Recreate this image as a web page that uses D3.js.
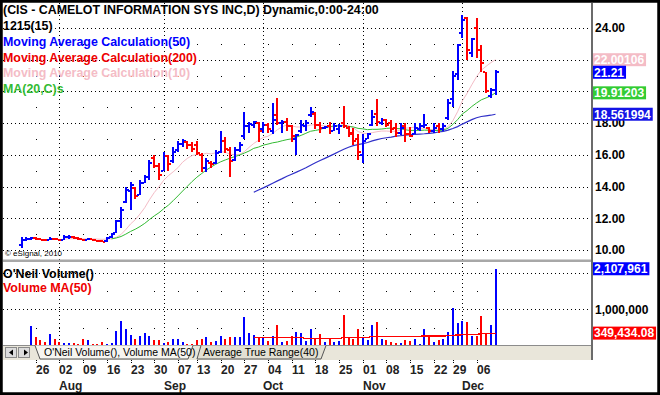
<!DOCTYPE html>
<html>
<head>
<meta charset="utf-8">
<script src="https://cdn.jsdelivr.net/npm/d3@7"></script>
<style>
  body { margin: 0; background: #fff; }
  svg text { font-family: "Liberation Sans", Arial, sans-serif; }
</style>
</head>
<body>
<svg id="chart"></svg>
<script>
// Handelsdage (Jul 21 - Dec 10, 2010)
const firstDay = "2010-07-21", lastDay = "2010-12-10";
const holidays = ["2010-09-06", "2010-11-25"];

// OHLC
const opens = [
  10.30,10.60,10.70,10.75,10.70,10.66,10.62,10.72,10.68,10.62,
  10.80,10.85,10.75,10.68,10.62,10.70,10.62,10.56,10.55,10.80,
  11.10,11.80,13.00,13.70,13.90,13.50,14.25,14.60,15.80,15.30,
  15.00,15.90,15.60,16.30,16.70,16.80,16.60,16.60,16.00,15.20,
  15.50,15.50,16.20,16.90,16.30,15.70,16.30,17.20,17.80,17.90,
  18.00,17.60,17.90,17.50,18.50,18.00,18.10,17.80,17.00,17.50,
  17.80,18.50,18.60,17.90,17.70,17.80,17.50,17.60,18.00,17.70,
  17.40,17.00,16.00,17.00,17.90,18.60,18.00,18.20,18.00,17.70,
  17.40,17.80,17.30,17.30,17.60,17.80,17.70,17.50,17.80,17.60,
  18.30,19.50,21.10,23.70,24.60,22.40,24.00,22.60,21.20,19.70,
  20.10];
const highs = [
  10.85,10.80,10.82,10.80,10.76,10.72,10.80,10.78,10.72,10.92,
  10.95,10.88,10.80,10.72,10.78,10.72,10.66,10.62,10.85,11.10,
  11.90,12.70,14.00,14.30,13.95,14.40,14.70,15.70,16.00,15.50,
  16.20,16.00,16.50,16.90,17.00,16.85,16.80,16.90,16.10,15.80,
  15.60,16.30,17.50,17.10,16.50,16.50,16.80,18.70,18.10,18.15,
  18.10,18.10,18.00,19.30,19.60,18.20,18.30,17.90,17.30,18.20,
  18.20,19.00,18.70,18.10,17.85,18.10,18.00,17.95,19.10,17.80,
  17.70,17.30,17.30,17.40,18.80,19.50,18.30,18.25,18.20,18.00,
  18.00,18.00,17.75,18.00,18.00,18.60,17.75,18.00,18.00,18.00,
  19.50,21.30,23.00,24.80,24.70,23.40,24.60,22.90,21.20,20.20,
  21.35];
const lows = [
  10.10,10.55,10.62,10.62,10.60,10.55,10.60,10.62,10.55,10.60,
  10.72,10.70,10.60,10.56,10.60,10.55,10.50,10.48,10.52,10.78,
  11.05,11.40,12.95,12.50,13.20,13.45,14.20,14.40,15.20,14.40,
  15.00,15.00,15.50,16.20,16.50,16.40,16.20,16.00,14.90,14.90,
  15.20,15.40,16.10,16.10,14.60,15.60,16.20,17.00,17.40,17.70,
  16.80,17.40,17.40,17.30,17.90,17.40,17.50,16.80,16.00,17.40,
  17.50,18.40,17.60,17.40,17.60,17.30,17.50,17.30,17.70,17.10,
  16.60,15.70,15.50,17.00,17.80,17.80,17.90,17.75,17.40,17.10,
  17.25,16.80,17.10,17.30,17.50,17.70,17.40,17.40,17.40,17.50,
  18.20,19.00,20.70,23.40,22.00,22.20,22.10,21.20,19.90,19.60,
  19.80];
const closes = [
  10.65,10.72,10.75,10.70,10.66,10.62,10.72,10.68,10.60,10.80,
  10.85,10.75,10.68,10.62,10.70,10.62,10.56,10.52,10.78,11.00,
  11.80,12.50,13.80,14.10,13.40,14.20,14.60,15.50,15.30,14.70,
  15.90,15.40,16.20,16.70,16.90,16.60,16.40,16.10,15.20,15.60,
  15.45,16.10,16.90,16.40,15.60,16.30,16.60,17.80,17.95,18.05,
  17.50,17.90,17.60,18.20,18.00,18.10,17.80,17.20,17.25,17.90,
  18.00,18.70,17.90,17.70,17.75,17.50,17.80,17.85,17.80,17.30,
  16.90,16.20,16.90,17.30,18.40,18.10,18.20,17.90,17.60,17.40,
  17.70,17.30,17.20,17.70,17.80,17.90,17.50,17.70,17.60,17.80,
  19.30,21.00,22.90,24.50,22.60,23.30,22.60,21.80,20.00,20.10,
  21.21];

// Volumen (aktier)
const volumes = [
  null,null,540000,250000,160000,120000,320000,200000,100000,90000,
  90000,90000,40000,180000,160000,40000,40000,120000,40000,90000,
  400000,690000,450000,290000,180000,270000,340000,270000,160000,160000,
  90000,120000,180000,200000,120000,40000,40000,160000,180000,250000,
  120000,140000,270000,180000,230000,250000,230000,780000,340000,310000,
  250000,250000,140000,270000,570000,120000,140000,270000,370000,340000,
  140000,460000,200000,320000,110000,200000,120000,140000,850000,230000,
  190000,470000,250000,160000,570000,650000,190000,160000,120000,80000,
  80000,160000,140000,190000,40000,460000,310000,110000,160000,190000,
  370000,1030000,630000,680000,660000,260000,260000,830000,360000,570000,
  2107961];

// Glidende gennemsnit (startdato + værdier)
const ma10From = "2010-08-03";
const ma10 = [
  10.69,10.71,10.71,10.71,10.70,10.70,10.70,10.69,10.67,10.69,
  10.71,10.80,10.98,11.29,11.64,11.91,12.27,12.67,13.17,13.62,
  13.99,14.40,14.69,14.93,15.19,15.54,15.78,15.96,16.02,16.01,
  16.10,16.06,16.13,16.20,16.17,16.04,16.01,16.03,16.20,16.47,
  16.72,16.92,17.10,17.17,17.35,17.59,17.77,17.89,17.83,17.76,
  17.75,17.80,17.88,17.91,17.86,17.83,17.77,17.77,17.84,17.89,
  17.83,17.72,17.47,17.37,17.33,17.40,17.46,17.50,17.50,17.48,
  17.49,17.57,17.68,17.71,17.75,17.69,17.67,17.60,17.58,17.58,
  17.62,17.78,18.15,18.72,19.40,19.88,20.42,20.93,21.34,21.58,
  21.81,22.00106];
const ma20From = "2010-08-17";
const ma20 = [
  10.70,10.76,10.85,11.00,11.17,11.31,11.48,11.68,11.92,12.15,
  12.35,12.60,12.83,13.11,13.41,13.72,14.02,14.32,14.59,14.82,
  15.05,15.23,15.41,15.56,15.68,15.79,15.89,15.99,16.11,16.24,
  16.41,16.49,16.61,16.68,16.76,16.81,16.89,16.96,17.01,17.12,
  17.23,17.36,17.49,17.54,17.60,17.71,17.77,17.83,17.83,17.83,
  17.79,17.76,17.67,17.64,17.59,17.61,17.61,17.63,17.67,17.69,
  17.66,17.65,17.58,17.54,17.54,17.54,17.56,17.55,17.54,17.53,
  17.56,17.68,17.92,18.22,18.58,18.79,19.05,19.27,19.47,19.59,
  19.72,19.91203];
const ma50From = "2010-09-29";
const ma50 = [
  13.64,13.78,13.92,14.06,14.21,14.36,14.50,14.65,14.78,14.91,
  15.05,15.19,15.35,15.50,15.64,15.78,15.92,16.06,16.21,16.35,
  16.48,16.58,16.65,16.71,16.78,16.88,16.96,17.03,17.08,17.12,
  17.18,17.21,17.25,17.27,17.29,17.31,17.33,17.36,17.39,17.44,
  17.48,17.56,17.66,17.78,17.94,18.08,18.22,18.34,18.42,18.46,
  18.50,18.561994];
const volMaFrom = "2010-09-29";
const volMa = [
  240000,240000,240000,230000,230000,230000,220000,220000,220000,220000,
  220000,210000,210000,210000,210000,210000,210000,210000,210000,230000,
  230000,230000,240000,240000,240000,250000,260000,260000,260000,260000,
  260000,260000,260000,260000,260000,260000,270000,270000,270000,270000,
  270000,280000,290000,300000,310000,320000,320000,320000,330000,330000,
  340000,349434.08];

// Akse-etiketter
const priceTicks = [10, 12, 14, 16, 18, 20, 22, 24];
const priceMinor = [11, 13, 15, 17, 19, 21, 23];
const volTicks = [1000000, 2000000];
const volMinor = [500000, 1500000];
const weekStarts = ["2010-07-26","2010-08-02","2010-08-09","2010-08-16","2010-08-23","2010-08-30",
  "2010-09-07","2010-09-13","2010-09-20","2010-09-27","2010-10-04","2010-10-11","2010-10-18",
  "2010-10-25","2010-11-01","2010-11-08","2010-11-15","2010-11-22","2010-11-29","2010-12-06"];
const weekLabels = ["26","02","09","16","23","30","07","13","20","27","04","11","18","25","01","08","15","22","29","06"];
const monthStarts = ["2010-08-02","2010-09-01","2010-10-01","2010-11-01","2010-12-01"];
const monthLabels = ["Aug","Sep","Oct","Nov","Dec"];

const BLUE = "#0000ff", RED = "#ff0000", PINK = "#f4bcc6", GREEN = "#33bb33", MA50C = "#3030c8";
const W = 660, H = 395, right = 591;

const fmt = d3.utcFormat("%Y-%m-%d");
const days = d3.utcDays(new Date(firstDay), d3.utcDay.offset(new Date(lastDay), 1))
    .filter(d => d.getUTCDay() % 6 !== 0 && !holidays.includes(fmt(d)))
    .map(fmt);

const ohlc = days.map((d, i) => ({
    date: d, o: opens[i], h: highs[i], l: lows[i], c: closes[i], v: volumes[i],
    up: i === 0 || closes[i] >= closes[i - 1]
}));
const series = (from, vals) => {
    const s = days.indexOf(from);
    return vals.map((v, k) => ({ date: days[s + k], v }));
};

const x = d3.scalePoint().domain(days).range([21.5, 495.5]);
const y = d3.scaleLinear().domain([10, 24]).range([250, 28]);
const yv = d3.scaleLinear().domain([0, 2000000]).range([345.9, 272.7]);
const px = d => Math.round(x(d));

const svg = d3.select("#chart").attr("width", W).attr("height", H);
svg.append("rect").attr("width", W).attr("height", H).attr("fill", "#fff");

const defs = svg.append("defs");
defs.append("clipPath").attr("id", "cp").append("rect").attr("x", 3).attr("y", 3).attr("width", right - 3).attr("height", 256);
defs.append("clipPath").attr("id", "cv").append("rect").attr("x", 3).attr("y", 262).attr("width", right - 3).attr("height", 83);

// Gitter
const grid = svg.append("g").attr("stroke", "#000").attr("stroke-width", 1).attr("stroke-dasharray", "1,3").attr("shape-rendering", "crispEdges");
grid.selectAll(".hp").data(priceTicks).join("line")
    .attr("x1", 3).attr("x2", right).attr("y1", d => Math.round(y(d)) + 0.5).attr("y2", d => Math.round(y(d)) + 0.5);
grid.selectAll(".hv").data(volTicks).join("line")
    .attr("x1", 3).attr("x2", right).attr("y1", d => Math.round(yv(d)) + 0.5).attr("y2", d => Math.round(yv(d)) + 0.5);
grid.selectAll(".vm").data(monthStarts).join("line")
    .attr("x1", d => px(d) + 0.5).attr("x2", d => px(d) + 0.5).attr("y1", 3).attr("y2", 345);

const dots = svg.append("g").attr("fill", "#000");
priceMinor.forEach(p => weekStarts.forEach(w =>
    dots.append("rect").attr("x", px(w)).attr("y", Math.round(y(p))).attr("width", 1).attr("height", 1)));
volMinor.forEach(p => weekStarts.forEach(w =>
    dots.append("rect").attr("x", px(w)).attr("y", Math.round(yv(p))).attr("width", 1).attr("height", 1)));

// Glidende gennemsnit
const line = d3.line().x(d => x(d.date)).y(d => y(d.v));
const gp = svg.append("g").attr("clip-path", "url(#cp)").attr("fill", "none");
gp.append("path").datum(series(ma10From, ma10)).attr("d", line).attr("stroke", PINK).attr("stroke-width", 1);
gp.append("path").datum(series(ma20From, ma20)).attr("d", line).attr("stroke", GREEN).attr("stroke-width", 1);
gp.append("path").datum(series(ma50From, ma50)).attr("d", line).attr("stroke", MA50C).attr("stroke-width", 1.2);

// OHLC-søjler
const gb = svg.append("g").attr("clip-path", "url(#cp)").attr("shape-rendering", "crispEdges");
const bar = gb.selectAll("g").data(ohlc).join("g").attr("fill", d => d.up ? BLUE : RED);
bar.append("rect").attr("x", d => px(d.date) - 1).attr("width", 2)
    .attr("y", d => Math.round(y(d.h))).attr("height", d => Math.max(2, Math.round(y(d.l)) - Math.round(y(d.h))));
bar.append("rect").attr("x", d => px(d.date) - 3).attr("width", 2)
    .attr("y", d => Math.round(y(d.o)) - 1).attr("height", 2);
bar.append("rect").attr("x", d => px(d.date) + 1).attr("width", 2)
    .attr("y", d => Math.round(y(d.c)) - 1).attr("height", 2);

// Volumen
const gv = svg.append("g").attr("clip-path", "url(#cv)").attr("shape-rendering", "crispEdges");
gv.selectAll("rect").data(ohlc.filter(d => d.v != null)).join("rect")
    .attr("x", d => px(d.date) - 1).attr("width", 2)
    .attr("y", d => yv(d.v)).attr("height", d => yv(0) - yv(d.v))
    .attr("fill", d => d.up ? BLUE : RED);
gv.append("path").datum(series(volMaFrom, volMa))
    .attr("d", d3.line().x(d => x(d.date)).y(d => yv(d.v)).curve(d3.curveStep))
    .attr("fill", "none").attr("stroke", RED).attr("stroke-width", 1.2);

// Paneladskillelse og højre akse
svg.append("rect").attr("x", 3).attr("y", 259.5).attr("width", right - 3).attr("height", 2.5).attr("fill", "#a8a8a8");
svg.append("line").attr("x1", right + 1).attr("x2", right + 1).attr("y1", 3).attr("y2", 360)
    .attr("stroke", "#3a3a3a").attr("stroke-width", 1.5);

// Legender
const legend = [
    ["(CIS - CAMELOT INFORMATION SYS INC,D) Dynamic,0:00-24:00", "#000", 14],
    ["1215(15)", "#000", 30],
    ["Moving Average Calculation(50)", BLUE, 46],
    ["Moving Average Calculation(200)", "#ee0000", 62],
    ["Moving Average Calculation(10)", PINK, 77],
    ["MA(20,C)s", GREEN, 93],
    ["O'Neil Volume()", "#000", 278],
    ["Volume MA(50)", "#ee0000", 292]
];
svg.append("g").selectAll("text").data(legend).join("text")
    .attr("x", 3).attr("y", d => d[2]).attr("fill", d => d[1])
    .attr("font-size", 12.4).attr("font-weight", "bold").text(d => d[0]);
svg.append("text").attr("x", 5).attr("y", 256).attr("font-size", 8).attr("fill", "#000").text("\u00a9 eSignal, 2010");

// Prisakse (etiketter skjult bag værdibokse udelades)
svg.append("g").selectAll("text").data(priceTicks.filter(d => d !== 20 && d !== 22)).join("text")
    .attr("x", 595).attr("y", d => y(d)).attr("dy", "0.36em")
    .attr("font-size", 12).attr("font-weight", "bold").attr("fill", "#000").text(d => d.toFixed(2));
svg.append("text").attr("x", 595).attr("y", yv(1000000)).attr("dy", "0.36em")
    .attr("font-size", 12).attr("font-weight", "bold").attr("fill", "#000").text(d3.format(",")(1000000));

// Seneste værdier i farvede bokse
const last = a => a[a.length - 1];
const boxes = [
    [y(last(ma10)), String(last(ma10)), PINK, "#fff"],
    [y(last(closes)), String(last(closes)), BLUE, "#fff"],
    [y(last(ma20)), String(last(ma20)), "#33cc33", "#fff"],
    [y(last(ma50)), String(last(ma50)), "#1414e6", "#fff"],
    [yv(last(volumes)), d3.format(",")(last(volumes)), BLUE, "#fff"],
    [yv(last(volMa)), d3.format(",.2f")(last(volMa)), RED, "#fff"]
];
boxes.forEach(([yy, t, bg, fg]) => {
    const g = svg.append("g");
    const r = g.append("rect").attr("x", 593).attr("y", yy - 6.5).attr("height", 13).attr("fill", bg);
    const tx = g.append("text").attr("x", 594).attr("y", yy).attr("dy", "0.36em")
        .attr("font-size", 12).attr("font-weight", "bold").attr("fill", fg).text(t);
    r.attr("width", tx.node().getComputedTextLength() + 3);
});

// Fanebjælke
svg.append("rect").attr("x", 3).attr("y", 345).attr("width", right - 3).attr("height", 15).attr("fill", "#e9e6da");
svg.append("line").attr("x1", 3).attr("x2", right).attr("y1", 345.5).attr("y2", 345.5).attr("stroke", "#8c8c8c");
[[5, "M9,352.5 L13,349.5 L13,355.5Z"], [18, "M24,349.5 L28,352.5 L24,355.5Z"]].forEach(([bx, tri]) => {
    svg.append("rect").attr("x", bx + 0.5).attr("y", 347.5).attr("width", 11).attr("height", 10)
        .attr("fill", "#dcdcdc").attr("stroke", "#8a8a8a");
    svg.append("path").attr("d", tri).attr("fill", "#000");
});
svg.append("path").attr("d", "M201,345.5 L197,359 L321,359 L326,345.5").attr("fill", "#e3e0d3").attr("stroke", "#555");
svg.append("path").attr("d", "M35,345.5 L40,359 L188,359 L193,345.5").attr("fill", "#f6f5f0").attr("stroke", "#555");
svg.append("text").attr("x", 44).attr("y", 356).attr("font-size", 10.5).attr("fill", "#000").text("O'Neil Volume(), Volume MA(50)");
svg.append("text").attr("x", 203).attr("y", 356).attr("font-size", 10.5).attr("fill", "#000").text("Average True Range(40)");

// Tidsakse
svg.append("g").selectAll("line").data(weekStarts).join("line")
    .attr("x1", d => px(d) + 0.5).attr("x2", d => px(d) + 0.5).attr("y1", 360).attr("y2", 364)
    .attr("stroke", "#000").attr("stroke-dasharray", "1,1");
svg.append("g").selectAll("text").data(weekStarts).join("text")
    .attr("x", d => px(d)).attr("y", 374).attr("font-size", 12).attr("font-weight", "bold")
    .attr("fill", "#222").text((d, i) => weekLabels[i]);
svg.append("g").selectAll("text").data(monthStarts).join("text")
    .attr("x", d => px(d)).attr("y", 390).attr("font-size", 12).attr("font-weight", "bold")
    .attr("fill", "#222").text((d, i) => monthLabels[i]);

// Ramme
svg.append("rect").attr("x", 0).attr("y", 0).attr("width", W).attr("height", H)
    .attr("fill", "none").attr("stroke", "#000").attr("stroke-width", 5.5);
</script>
</body>
</html>
